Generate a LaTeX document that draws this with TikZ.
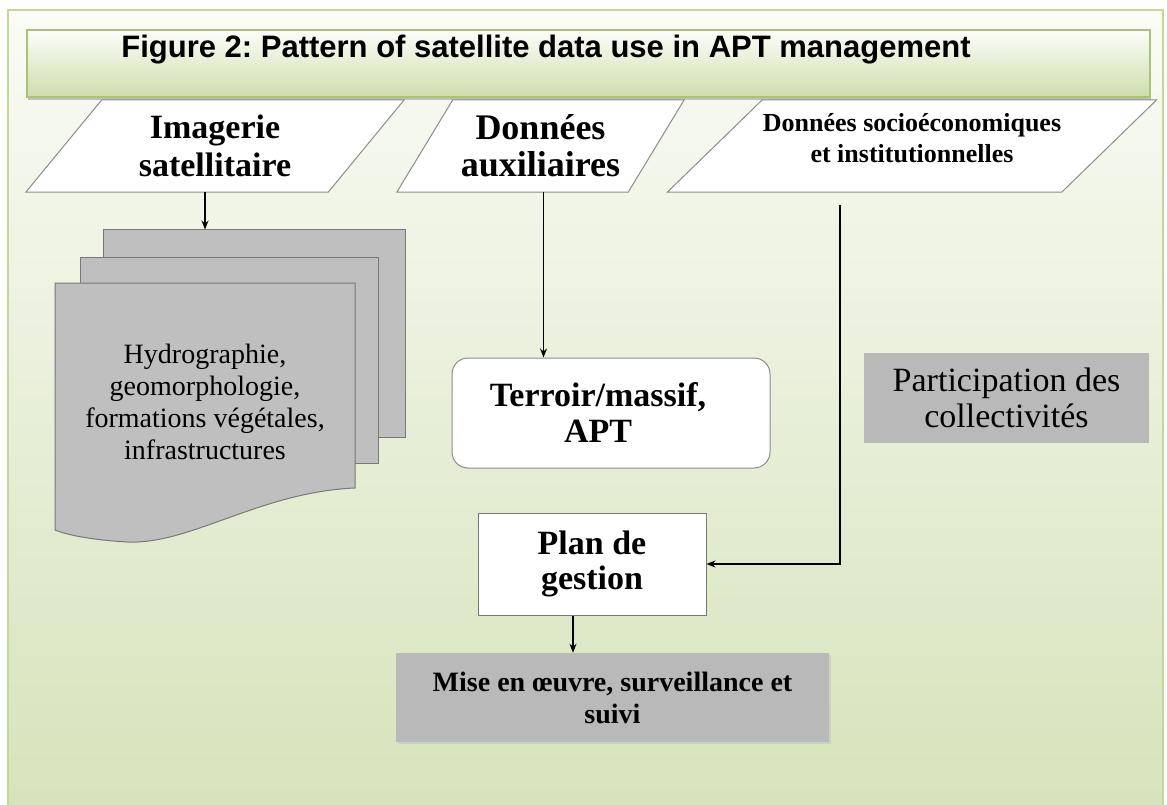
\documentclass[tikz,border=0pt]{standalone}
\usepackage{fontspec}
\setmainfont{Liberation Serif}
\newfontfamily\headfont{Liberation Sans}
\usepackage{tikz}
\usetikzlibrary{arrows.meta,shadows}
\frenchspacing
\definecolor{paneltop}{RGB}{250,251,246}
\definecolor{panelbot}{RGB}{214,227,187}
\definecolor{panelline}{RGB}{196,215,155}
\definecolor{titletop}{RGB}{252,253,249}
\definecolor{titlebot}{RGB}{205,222,172}
\definecolor{titleline}{RGB}{168,194,118}
\definecolor{sheetgray}{RGB}{191,191,191}
\definecolor{sheetline}{RGB}{120,120,120}
\definecolor{boxgray}{RGB}{185,185,185}
\definecolor{paraline}{RGB}{140,140,140}
\newcommand{\fsize}[2]{\fontsize{#1pt}{#2pt}\selectfont}
% parallelogram round a node: #1 name, #2 half slant
\newcommand{\drawpara}[2]{
  \begin{pgfonlayer}{back}
  \draw[paraline,fill=white,line width=1pt] ([xshift=#2]#1.north west)--([xshift=#2]#1.north east)
    --([xshift=-#2]#1.south east)--([xshift=-#2]#1.south west)--cycle;
  \end{pgfonlayer}
}
\pgfdeclarelayer{back}
\pgfsetlayers{back,main}
\tikzset{
  txt/.style={align=center,inner sep=0pt},
  para/.style={txt,minimum height=92pt},
  sheet/.style={fill=sheetgray,draw=sheetline,line width=1pt},
  arr/.style={-{Stealth[length=9pt,width=7pt]},line width=1.3pt}
}

\begin{document}
\begin{tikzpicture}[x=1pt,y=-1pt]
\useasboundingbox (0,0) rectangle (1167,805);
\begin{pgfonlayer}{back}
\shade[top color=paneltop,bottom color=panelbot] (8,10) rectangle (1163,805);
\draw[panelline,line width=2.5pt] (8,810)--(8,10)--(1163,10)--(1163,810);
\path[top color=titletop,bottom color=titlebot,draw=titleline,line width=1.2pt,
  drop shadow={shadow xshift=1pt,shadow yshift=-3pt,fill=black!45}] (27,30) rectangle (1150,97);
\end{pgfonlayer}
\node[txt,font=\headfont\bfseries\fsize{31}{34}] (title) at (546,50) {Figure 2: Pattern of satellite data use in APT management};

% inputs
\node[para,minimum width=302pt,font=\bfseries\fsize{34}{38}] (imagerie) at (215,146) {Imagerie\\satellitaire};
\node[para,minimum width=231pt,font=\bfseries\fsize{36}{37}] (auxil) at (540.5,146) {Données\\auxiliaires};
\node[para,minimum width=394pt,font=\bfseries\fsize{26}{31}] (socio) at (912,146) {Données socioéconomiques\\et institutionnelles\\[-14pt]\mbox{}};
\drawpara{imagerie}{38}\drawpara{auxil}{28}\drawpara{socio}{47.5}

% stack of sheets
\node[sheet,minimum width=302pt,minimum height=207pt] (sheetc) at (254,333.5) {};
\node[sheet,minimum width=298pt,minimum height=206pt] (sheetb) at (229,360) {};
\draw[sheet] (55,283)--(355,283)--(355,488) .. controls (260,492) and (190,545) .. (127,542)
  .. controls (95,540) and (70,536) .. (55,530)--cycle;
\node[txt,font=\fsize{28}{32}] (hydro) at (205,402) {Hydrographie,\\geomorphologie,\\formations végétales,\\infrastructures};

\node[txt,draw=paraline,fill=white,line width=1pt,rounded corners=16pt,minimum width=318pt,minimum height=110pt,
  font=\bfseries\fsize{34}{36}] (terroir) at (611,413) {Terroir/massif,\hspace*{26pt}\\APT\hspace*{26pt}};
\node[txt,fill=boxgray,minimum width=285pt,minimum height=90pt,font=\fsize{34}{36}] (particip) at (1006.5,398) {Participation des\\collectivités};
\node[txt,draw=sheetline,fill=white,line width=1pt,minimum width=228pt,minimum height=102pt,
  font=\bfseries\fsize{34}{35}] (plan) at (592,564) {Plan de\\gestion};
\node[txt,fill=boxgray,minimum width=433pt,minimum height=89pt,font=\bfseries\fsize{28}{32},
  drop shadow={shadow xshift=2pt,shadow yshift=-2pt,fill=black!25}] (mise) at (612.5,697.5) {Mise en œuvre, surveillance et\\suivi};

% links
\coordinate (sockey) at (840,205);
\draw[arr] ([xshift=-10pt]imagerie.south)--([xshift=-10pt]imagerie.south |- sheetc.north);
\draw[arr] ([xshift=3pt]auxil.south)--([xshift=3pt]auxil.south |- terroir.north);
\draw[arr] (sockey) |- (plan.east);
\draw[arr] ([xshift=-19pt]plan.south)--([xshift=-19pt]plan.south |- mise.north);
\end{tikzpicture}
\end{document}
